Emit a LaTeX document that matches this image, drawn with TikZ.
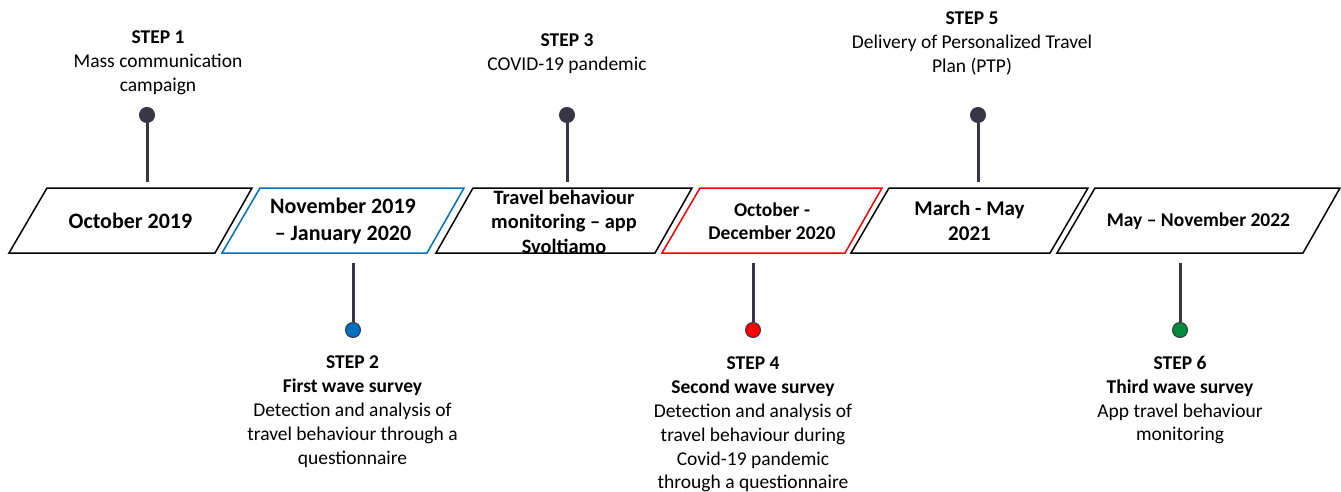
\documentclass[tikz,border=0pt]{standalone}
\usepackage{fontspec}
\setmainfont{Carlito}
\usepackage{xcolor}
\usetikzlibrary{positioning}
\definecolor{pinGray}{HTML}{383644}
\definecolor{waveBlue}{HTML}{0070C0}
\definecolor{waveRed}{HTML}{FF0000}
\definecolor{waveGreen}{HTML}{008A3A}

\begin{document}
\begin{tikzpicture}[x=1pt,y=-1pt,
  stepText/.style={align=center,inner sep=0pt,anchor=north,font=\fontsize{19.5}{23.8}\selectfont},
  dateText/.style={align=center,inner sep=0pt,font=\bfseries\fontsize{22}{27}\selectfont},
  frame/.style={line width=1.5pt,line join=miter},
  knob/.style={circle,draw=pinGray,line width=1pt,fill=#1,minimum size=15pt,inner sep=0pt},
  stalk/.style={line width=3pt,pinGray}]
\useasboundingbox (0,0) rectangle (1341,492);

% dates inside the timeline
\node[dateText] (d1) at (130.5,221) {October 2019};
\node[dateText] (d2) at (343,221) {November 2019\\-- January 2020};
\node[dateText,font=\bfseries\fontsize{20.4}{24.5}\selectfont] (d3) at (564,221.5) {Travel behaviour\\monitoring -- app\\Svoltiamo};
\node[dateText,font=\bfseries\fontsize{19.5}{23.5}\selectfont] (d4) at (772,221) {October -\\December 2020};
\node[dateText,font=\bfseries\fontsize{21}{25}\selectfont] (d5) at (969.5,221) {March - May\\2021};
\node[dateText,font=\bfseries\fontsize{19.5}{23.5}\selectfont] (d6) at (1198.5,221) {May -- November 2022};

% the parallelograms
\draw[frame] (9,253) -- (215,253) -- (252,188) -- (47,188) -- cycle;
\draw[frame,waveBlue] (222,253) -- (427,253) -- (464,188) -- (260,188) -- cycle;
\draw[frame] (436,253) -- (655,253) -- (692,188) -- (473,188) -- cycle;
\draw[frame,waveRed] (662,253) -- (845,253) -- (882,188) -- (700,188) -- cycle;
\draw[frame] (851,253) -- (1050,253) -- (1088,188) -- (889,188) -- cycle;
\draw[frame] (1057,253) -- (1303,253) -- (1340,188) -- (1095,188) -- cycle;

% steps above
\coordinate (t1) at (147,182);
\coordinate (t3) at (567,182);
\coordinate (t5) at (978,182);
\node[knob=pinGray] (k1) at (147,115) {};
\node[knob=pinGray] (k3) at (567,115) {};
\node[knob=pinGray] (k5) at (978,115) {};
\draw[stalk] (k1) -- (t1);
\draw[stalk] (k3) -- (t3);
\draw[stalk] (k5) -- (t5);

% steps below
\coordinate (b2) at (353,263);
\coordinate (b4) at (753,263);
\coordinate (b6) at (1180,263);
\node[knob=waveBlue] (k2) at (353,330) {};
\node[knob=waveRed] (k4) at (753,330) {};
\node[knob=waveGreen] (k6) at (1180,330) {};
\draw[stalk] (b2) -- (k2);
\draw[stalk] (b4) -- (k4);
\draw[stalk] (b6) -- (k6);

\node[stepText] (s1) at (158,31) {\textbf{STEP 1}\\Mass communication\\campaign};
\node[stepText] (s3) at (567,34) {\textbf{STEP 3}\\COVID-19 pandemic};
\node[stepText] (s5) at (972,12) {\textbf{STEP 5}\\Delivery of Personalized Travel\\Plan (PTP)};
\node[stepText] (s2) at (352.5,356) {\textbf{STEP 2}\\\textbf{First wave survey}\\Detection and analysis of\\travel behaviour through a\\questionnaire};
\node[stepText] (s4) at (753,357) {\textbf{STEP 4}\\\textbf{Second wave survey}\\Detection and analysis of\\travel behaviour during\\Covid-19 pandemic\\through a questionnaire};
\node[stepText] (s6) at (1180,356) {\textbf{STEP 6}\\\textbf{Third wave survey}\\App travel behaviour\\monitoring};

\end{tikzpicture}
\end{document}
